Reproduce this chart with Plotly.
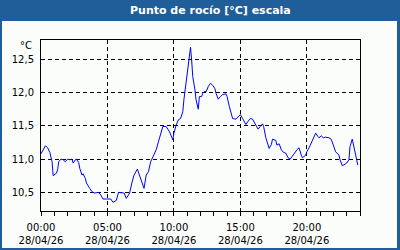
import plotly.graph_objects as go

times = ["00:00","00:20","00:30","00:40","00:50","00:55","01:10","01:15","01:20","01:30",
         "01:40","01:50","02:00","02:10","02:20","02:25","02:35","02:40","02:50","02:55",
         "03:05","03:10","03:20","03:25","03:40","03:50","04:00","04:10","04:20","04:30",
         "04:40","04:55","05:15","05:25","05:40","05:50","06:05","06:15","06:25","06:40",
         "06:50","07:00","07:15","07:25","07:35","07:45","07:55","08:05","08:15","08:25",
         "08:40","08:50","09:00","09:10","09:25","09:40","09:55","10:00","10:10","10:20",
         "10:30","10:40","10:45","10:55","11:00","11:10","11:15","11:20","11:25","11:35",
         "11:40","11:50","11:55","12:05","12:10","12:20","12:25","12:35","12:45","12:55",
         "13:05","13:10","13:20","13:30","13:40","13:55","14:00","14:10","14:20","14:25",
         "14:40","14:50","15:00","15:10","15:25","15:35","15:45","15:55","16:10","16:20",
         "16:30","16:40","16:45","16:55","17:10","17:20","17:25","17:40","17:45","17:55",
         "18:05","18:15","18:25","18:35","18:45","18:55","19:05","19:15","19:25","19:35",
         "19:40","19:55","20:00","20:10","20:20","20:30","20:40","20:50","20:55","21:05",
         "21:15","21:25","21:40","21:50","22:00","22:10","22:25","22:30","22:40","22:50",
         "23:00","23:10","23:15","23:25","23:30","23:40","23:45","23:50"]
dew_point = [11.08,11.20,11.17,11.10,10.96,10.75,10.79,10.84,10.96,11.00,
             10.99,10.96,11.00,10.99,11.00,10.94,10.99,11.00,10.95,10.86,
             10.76,10.78,10.71,10.64,10.56,10.51,10.49,10.50,10.50,10.46,
             10.40,10.40,10.40,10.35,10.38,10.50,10.50,10.49,10.41,10.49,
             10.64,10.76,10.85,10.76,10.64,10.56,10.76,10.81,10.96,11.04,
             11.14,11.26,11.39,11.49,11.49,11.41,11.29,11.39,11.51,11.59,
             11.61,11.71,11.89,12.14,12.34,12.51,12.68,12.49,12.24,12.04,
             11.89,11.75,11.94,11.94,11.99,12.02,12.01,12.09,12.14,12.11,
             12.06,11.99,11.90,11.94,11.97,11.98,11.94,11.79,11.69,11.61,
             11.60,11.64,11.67,11.61,11.52,11.57,11.61,11.60,11.52,11.45,
             11.49,11.53,11.49,11.32,11.16,11.22,11.30,11.28,11.21,11.23,
             11.14,11.10,11.09,11.02,11.00,11.04,11.09,11.14,11.17,11.06,
             11.02,11.06,11.11,11.17,11.24,11.33,11.39,11.34,11.32,11.35,
             11.32,11.33,11.32,11.30,11.21,11.11,11.06,10.99,10.90,10.92,
             10.94,10.99,11.19,11.30,11.21,11.04,10.99,10.91]
date = "2026-04-28"
x_vals = [f"{date} {t}" for t in times]

title_text = "Punto de rocío [°C] escala"
unit_text = "°C"
y_range = [10.22, 12.79]
x_range = ["2026-04-28 00:00", "2026-04-29 00:00"]

W, H = 400, 250
L, R, T, B = 41, 40, 40, 39
pw, ph = W - L - R, H - T - B
def px(x):  # pixel x -> paper
    return (x - L) / pw
def py(y):  # pixel y -> paper
    return (H - B - y) / ph

blue = "#1F5E99"
bg = "#FBFDFB"
font = "DejaVu Sans"

fig = go.Figure()
fig.add_trace(go.Scatter(x=x_vals, y=dew_point, mode="lines",
                         line=dict(color="#0000FF", width=1), hoverinfo="skip"))

shapes = [
    dict(type="rect", xref="paper", yref="paper", x0=px(0), x1=px(W), y0=py(21), y1=py(0),
         fillcolor=blue, line=dict(width=0), layer="above"),
    dict(type="rect", xref="paper", yref="paper", x0=px(0), x1=px(2), y0=py(H), y1=py(0),
         fillcolor=blue, line=dict(width=0), layer="above"),
    dict(type="rect", xref="paper", yref="paper", x0=px(W - 3), x1=px(W), y0=py(H), y1=py(0),
         fillcolor=blue, line=dict(width=0), layer="above"),
    dict(type="rect", xref="paper", yref="paper", x0=px(0), x1=px(W), y0=py(H), y1=py(H - 2),
         fillcolor=blue, line=dict(width=0), layer="above"),
]

fig.update_layout(
    width=W, height=H,
    margin=dict(l=L, r=R, t=T, b=B, pad=0, autoexpand=False),
    paper_bgcolor=bg, plot_bgcolor=bg,
    separators=",.",
    showlegend=False,
    shapes=shapes,
    font=dict(family=font, size=10, color="#000000"),
    annotations=[
        dict(text=f"<b>{title_text}</b>", xref="paper", yref="paper", x=px(210), y=py(10.5),
             xanchor="center", yanchor="middle", showarrow=False,
             font=dict(family=font, size=11, color="#FFFFFF")),
        dict(text=unit_text, xref="paper", yref="paper", x=px(34), y=py(45),
             xanchor="right", yanchor="middle", showarrow=False,
             font=dict(family=font, size=10, color="#000000")),
    ],
    xaxis=dict(
        type="date", range=x_range, automargin=False,
        dtick=5 * 3600 * 1000, tick0="2026-04-28 00:00",
        tickformat="%H:%M<br>%d/%m/%y",
        showline=True, linecolor="#000000", linewidth=1, mirror=True,
        ticks="outside", ticklen=4, tickcolor="#000000",
        showgrid=True, gridcolor="#000000", griddash="4px,3px", gridwidth=1,
        minor=dict(dtick=3600 * 1000, ticks="outside", ticklen=4, tickcolor="#000000", showgrid=False),
        zeroline=False, fixedrange=True, ticklabelstandoff=3,
        tickfont=dict(family=font, size=10),
    ),
    yaxis=dict(
        range=y_range, dtick=0.5, tick0=10.5, tickformat=".1f", automargin=False,
        showline=True, linecolor="#000000", linewidth=1, mirror=True,
        ticks="", showgrid=True, gridcolor="#000000", griddash="4px,3px", gridwidth=1,
        zeroline=False, fixedrange=True, ticklabelstandoff=4,
        tickfont=dict(family=font, size=10),
    ),
)

fig.write_html("out.html", config={"displayModeBar": False})
